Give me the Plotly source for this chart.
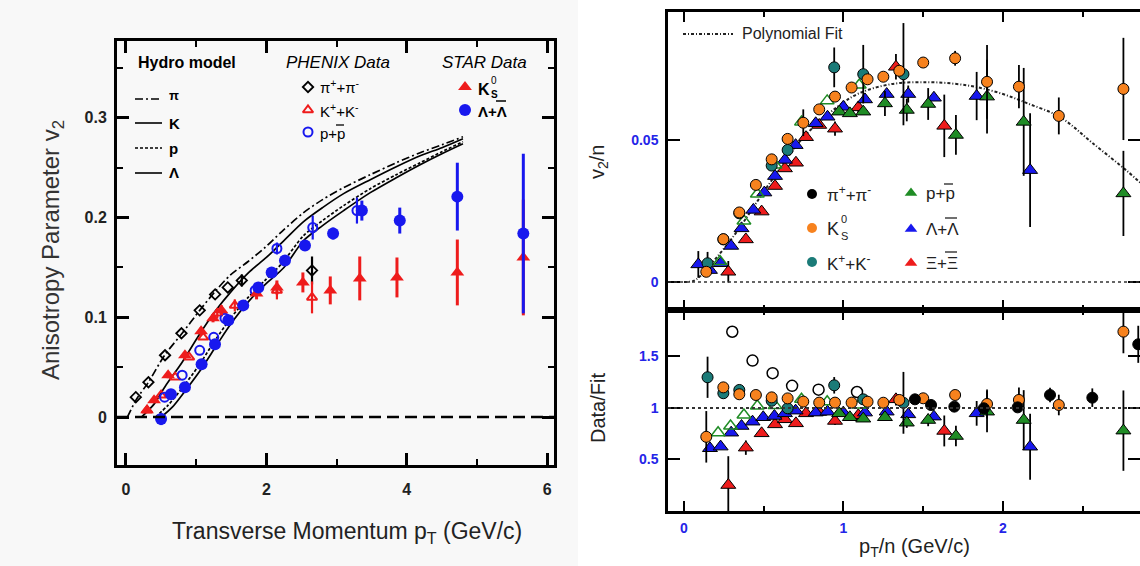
import plotly.graph_objects as go

W, H = 1140, 566
FONT = "Liberation Sans, Arial, sans-serif"
RED, BLUE = "#ee1c1c", "#1818ee"
ORANGE, TEAL, GREEN = "#f7821e", "#1b7b78", "#1f8c25"
TICKBLUE = "#2424e8"

# ---------------- left: hydro model vs PHENIX / STAR v2(pT) ----------------
hydro_pi_x = [0.02, 0.15, 0.32, 0.55, 0.8, 1.05, 1.27, 1.48, 1.74, 1.98, 2.22, 2.53, 2.8, 3.1, 3.48, 3.85, 4.19, 4.5, 4.8]
hydro_pi_y = [0.0, 0.018, 0.035, 0.062, 0.084, 0.107, 0.126, 0.142, 0.156, 0.170, 0.186, 0.205, 0.218, 0.230, 0.243, 0.255, 0.265, 0.273, 0.281]
hydro_k_x = [0.22, 0.4, 0.56, 0.8, 1.03, 1.27, 1.5, 1.75, 2.0, 2.25, 2.53, 2.8, 3.1, 3.48, 3.85, 4.19, 4.5, 4.8]
hydro_k_y = [0.0, 0.013, 0.031, 0.055, 0.081, 0.106, 0.126, 0.145, 0.160, 0.177, 0.196, 0.210, 0.224, 0.238, 0.251, 0.262, 0.270, 0.279]
hydro_p_x = [0.42, 0.6, 0.8, 1.03, 1.27, 1.5, 1.74, 1.98, 2.22, 2.53, 2.8, 3.1, 3.48, 3.85, 4.19, 4.5, 4.8]
hydro_p_y = [0.0, 0.012, 0.029, 0.051, 0.077, 0.100, 0.120, 0.137, 0.154, 0.182, 0.197, 0.212, 0.229, 0.243, 0.255, 0.266, 0.276]
hydro_lam_x = [0.5, 0.66, 0.85, 1.06, 1.3, 1.52, 1.76, 2.0, 2.25, 2.53, 2.8, 3.1, 3.48, 3.85, 4.19, 4.5, 4.8]
hydro_lam_y = [0.0, 0.010, 0.027, 0.047, 0.073, 0.096, 0.117, 0.134, 0.150, 0.177, 0.192, 0.207, 0.225, 0.240, 0.253, 0.264, 0.274]

phenix_pi_x = [0.14, 0.32, 0.556, 0.79, 1.05, 1.27, 1.45, 1.65, 2.65]
phenix_pi_y = [0.020, 0.035, 0.062, 0.084, 0.107, 0.123, 0.130, 0.137, 0.147]
phenix_pi_e = [0, 0, 0, 0, 0, 0, 0, 0.006, 0.014]

phenix_k_x = [0.3, 0.5, 0.7, 0.9, 1.1, 1.3, 1.55, 2.15, 2.65]
phenix_k_y = [0.007, 0.022, 0.040, 0.060, 0.080, 0.104, 0.112, 0.127, 0.120]
phenix_k_e = [0, 0, 0, 0, 0, 0.005, 0.006, 0.009, 0.016]

phenix_p_x = [0.55, 0.8, 1.05, 1.25, 1.41, 1.84, 2.15, 2.66, 3.29]
phenix_p_y = [0.020, 0.042, 0.067, 0.080, 0.099, 0.127, 0.169, 0.190, 0.207]
phenix_p_e = [0, 0, 0, 0, 0, 0.004, 0.006, 0.012, 0.013]

star_k0_x = [0.3, 0.4, 0.6, 0.84, 1.07, 1.24, 1.36, 1.86, 2.15, 2.52, 2.91, 3.33, 3.86, 4.72, 5.66]
star_k0_y = [0.007, 0.017, 0.042, 0.062, 0.086, 0.099, 0.107, 0.124, 0.130, 0.135, 0.127, 0.139, 0.140, 0.145, 0.160]
star_k0_e = [0.003, 0.003, 0.003, 0.003, 0.004, 0.004, 0.005, 0.006, 0.007, 0.010, 0.014, 0.022, 0.020, 0.033, 0.058]

star_lam_x = [0.5, 0.64, 0.84, 1.077, 1.268, 1.458, 1.67, 1.885, 2.075, 2.265, 2.55, 2.95, 3.36, 3.9, 4.72, 5.66]
star_lam_y = [-0.002, 0.023, 0.030, 0.053, 0.073, 0.097, 0.112, 0.130, 0.145, 0.157, 0.172, 0.184, 0.207, 0.197, 0.221, 0.184]
star_lam_e = [0.006, 0.003, 0.003, 0.003, 0.003, 0.003, 0.003, 0.003, 0.004, 0.004, 0.005, 0.006, 0.010, 0.013, 0.034, 0.080]

# ---------------- right: v2/n vs pT/n with polynomial fit ----------------
fit_x = [0.0, 0.06, 0.1, 0.225, 0.33, 0.54, 0.75, 0.96, 1.10, 1.30, 1.52, 1.70, 1.84, 2.0, 2.15, 2.36, 2.56, 2.78, 2.86]
fit_y = [0.0, 0.0004, 0.002, 0.010, 0.0176, 0.035, 0.051, 0.0616, 0.0665, 0.0697, 0.0704, 0.0698, 0.0686, 0.0662, 0.0630, 0.0580, 0.0490, 0.0390, 0.0350]

xi_x = [0.278, 0.388, 0.487, 0.571, 0.633, 0.702, 0.765, 0.848, 0.947, 1.093, 1.329, 1.632]
xi_y = [0.0036, 0.0150, 0.0248, 0.0338, 0.0400, 0.0420, 0.0510, 0.0553, 0.0540, 0.0615, 0.0758, 0.0550]
xi_e = [0.0038, 0.001, 0, 0, 0, 0, 0, 0, 0.0025, 0.002, 0.0045, 0.011]
xi_r = [0.252, 0.615, 0.754, 0.841, 0.890, 0.851, 0.948, 0.961, 0.874, 0.929, 1.084, 0.777]
xi_re = [0.28, 0.07, 0, 0, 0, 0, 0, 0, 0.04, 0.03, 0.06, 0.15]

lam_x = [0.09, 0.163, 0.23, 0.296, 0.361, 0.435, 0.504, 0.571, 0.633, 0.70, 0.826, 0.90, 0.999, 1.135, 1.271, 1.406, 1.567, 1.835, 2.17]
lam_y = [0.0062, 0.0042, 0.0066, 0.0127, 0.0189, 0.0254, 0.0315, 0.0373, 0.0430, 0.0482, 0.0559, 0.0582, 0.0617, 0.0643, 0.0662, 0.0662, 0.0649, 0.0655, 0.0394]
lam_e = [0.0047, 0, 0, 0, 0, 0, 0, 0, 0, 0, 0, 0, 0, 0, 0, 0.003, 0, 0.0085, 0.020]
lam_rx = [0.163, 0.23, 0.296, 0.361, 0.43, 0.497, 0.567, 0.633, 0.70, 0.826, 0.90, 0.999, 1.135, 1.271, 1.406, 1.567, 1.835, 2.17]
lam_r = [0.609, 0.625, 0.760, 0.825, 0.867, 0.910, 0.922, 0.948, 0.974, 0.955, 0.964, 0.955, 0.955, 0.964, 0.938, 0.916, 0.948, 0.624]
lam_re = [0, 0, 0, 0, 0, 0, 0, 0, 0, 0, 0, 0, 0, 0, 0.04, 0, 0.12, 0.32]

p_x = [0.973, 1.04, 1.124, 1.26, 1.397, 1.531, 1.705, 1.90, 2.13, 2.755]
p_y = [0.0600, 0.0594, 0.0600, 0.0629, 0.0606, 0.0627, 0.0518, 0.0653, 0.0564, 0.0312]
p_e = [0, 0, 0, 0.0044, 0.004, 0.0056, 0.007, 0.013, 0.019, 0.015]
p_r = [0.948, 0.910, 0.896, 0.910, 0.857, 0.883, 0.728, 0.964, 0.883, 0.780]
p_re = [0, 0, 0, 0.03, 0.05, 0.06, 0.10, 0.20, 0.29, 0.39]

pbar_open_x = [0.226, 0.376, 0.46, 0.571, 0.737, 0.898, 1.099]
pbar_open_y = [0.0072, 0.0215, 0.0310, 0.0412, 0.0564, 0.0638, 0.0694]
pbar_open_rx = [0.214, 0.292, 0.376, 0.46, 0.571, 0.737, 0.898, 1.099]
pbar_open_r = [0.760, 0.825, 0.932, 1.019, 1.023, 1.084, 1.060, 1.029]

kch_x = [0.148, 0.247, 0.347, 0.55, 0.65, 0.942, 1.124, 1.376]
kch_y = [0.0066, 0.0150, 0.0242, 0.0410, 0.0465, 0.0756, 0.0732, 0.0732]
kch_e = [0.004, 0, 0, 0, 0, 0.007, 0.0103, 0.018]
kch_r = [1.298, 1.143, 1.175, 1.070, 0.997, 1.220, 1.084, 1.050]
kch_re = [0.20, 0.04, 0, 0, 0, 0.08, 0.03, 0.30]

k0_x = [0.14, 0.247, 0.347, 0.451, 0.55, 0.65, 0.748, 0.848, 0.947, 1.051, 1.151, 1.25, 1.35, 1.50, 1.70, 1.90, 2.10, 2.35, 2.755]
k0_y = [0.0036, 0.0151, 0.0245, 0.0342, 0.0432, 0.0504, 0.0561, 0.0608, 0.0653, 0.0685, 0.0714, 0.0723, 0.0744, 0.0773, 0.0788, 0.0705, 0.0688, 0.0585, 0.0680]
k0_e = [0, 0, 0, 0, 0, 0, 0.0047, 0, 0, 0, 0, 0, 0, 0, 0.0026, 0.013, 0.0076, 0.0065, 0.018]
k0_r = [0.720, 1.200, 1.133, 1.126, 1.103, 1.093, 1.062, 1.052, 1.052, 1.052, 1.061, 1.051, 1.078, 1.094, 1.126, 1.039, 1.078, 1.029, 1.741]
k0_re = [0.25, 0.03, 0, 0, 0, 0, 0.05, 0, 0, 0, 0, 0, 0, 0, 0.03, 0.14, 0.12, 0.10, 0.21]

pi_rx = [1.448, 1.549, 1.695, 1.88, 2.092, 2.295, 2.56, 2.848]
pi_r = [1.084, 1.029, 1.013, 0.997, 1.006, 1.126, 1.100, 1.618]
pi_re = [0, 0, 0, 0, 0, 0.07, 0.09, 0.18]

pi_open_rx = [0.303, 0.43, 0.556, 0.678, 0.844, 1.085]
pi_open_r = [1.740, 1.460, 1.338, 1.215, 1.178, 1.155]


def px(x):
    return x / W


def py(y):
    return 1 - y / H


fig = go.Figure()


def pts(x, y, err, ax, symbol, color, size, line_color=None, line_w=0, err_color=None, err_w=1.8):
    marker = dict(symbol=symbol, size=size, color=color,
                  line=dict(color=line_color or color, width=line_w))
    fig.add_trace(go.Scatter(
        x=x, y=y, mode="markers", marker=marker, xaxis=ax[0], yaxis=ax[1],
        error_y=dict(type="data", array=err, visible=True,
                     color=err_color or color, thickness=err_w, width=0) if err is not None else None,
        showlegend=False, hoverinfo="skip"))


# hydro curves
for cx, cy, dash in [(hydro_pi_x, hydro_pi_y, "8px,3px,2px,3px"), (hydro_k_x, hydro_k_y, "solid"),
                     (hydro_p_x, hydro_p_y, "3px,2px"), (hydro_lam_x, hydro_lam_y, "solid")]:
    fig.add_trace(go.Scatter(x=cx, y=cy, mode="lines", xaxis="x", yaxis="y",
                             line=dict(color="black", width=1.7, dash=dash, shape="spline", smoothing=0.8),
                             showlegend=False, hoverinfo="skip"))

L = ("x", "y")
pts(phenix_pi_x, phenix_pi_y, phenix_pi_e, L, "diamond-open", "black", 8, line_w=1.8, err_w=2.2)
pts(phenix_k_x, phenix_k_y, phenix_k_e, L, "triangle-up-open", RED, 9, line_w=2, err_w=2.2)
pts(phenix_p_x, phenix_p_y, phenix_p_e, L, "circle-open", BLUE, 9, line_w=2, err_w=2.2)
pts(star_k0_x, star_k0_y, star_k0_e, L, "triangle-up", RED, 12, err_w=3)
pts(star_lam_x, star_lam_y, star_lam_e, L, "circle", BLUE, 12, err_w=3)

# right top: v2/n
fig.add_trace(go.Scatter(x=fit_x, y=fit_y, mode="lines", xaxis="x2", yaxis="y2",
                         line=dict(color="#222", width=2, dash="3px,2px,1px,2px", shape="spline"),
                         showlegend=False, hoverinfo="skip"))
T = ("x2", "y2")
pts(xi_x, xi_y, xi_e, T, "triangle-up", RED, 13, "black", 1, "black")
pts(lam_x, lam_y, lam_e, T, "triangle-up", BLUE, 13, "black", 1, "black")
pts(p_x, p_y, p_e, T, "triangle-up", GREEN, 13, "black", 1, "black")
pts(pbar_open_x, pbar_open_y, None, T, "triangle-up-open", GREEN, 12, GREEN, 1.5)
pts(kch_x, kch_y, kch_e, T, "circle", TEAL, 11, "black", 1, "black")
pts(k0_x, k0_y, k0_e, T, "circle", ORANGE, 11, "black", 1, "black")

# right bottom: Data/Fit
B = ("x3", "y3")
pts(xi_x, xi_r, xi_re, B, "triangle-up", RED, 13, "black", 1, "black")
pts(lam_rx, lam_r, lam_re, B, "triangle-up", BLUE, 13, "black", 1, "black")
pts(p_x, p_r, p_re, B, "triangle-up", GREEN, 13, "black", 1, "black")
pts(pbar_open_rx, pbar_open_r, None, B, "triangle-up-open", GREEN, 12, GREEN, 1.5)
pts(pi_open_rx, pi_open_r, None, B, "circle-open", "black", 11, "black", 1.5)
pts(kch_x, kch_r, kch_re, B, "circle", TEAL, 11, "black", 1, "black")
pts(k0_x, k0_r, k0_re, B, "circle", ORANGE, 11, "black", 1, "black")
pts(pi_rx, pi_r, pi_re, B, "circle", "black", 11, "black", 1, "black")

# legend symbols drawn on a pixel-space overlay
O = ("x4", "y4")
pts([308], [87], None, O, "diamond-open", "black", 8, line_w=1.8)
pts([308], [110], None, O, "triangle-up-open", RED, 9, line_w=2)
pts([308], [132], None, O, "circle-open", BLUE, 9, line_w=2)
pts([465], [87], None, O, "triangle-up", RED, 12)
pts([465], [110], None, O, "circle", BLUE, 12)
pts([812], [194], None, O, "circle", "black", 10)
pts([812], [228], None, O, "circle", ORANGE, 10)
pts([812], [262], None, O, "circle", TEAL, 10)
pts([911], [193], None, O, "triangle-up", GREEN, 11)
pts([911], [229], None, O, "triangle-up", BLUE, 11)
pts([911], [263], None, O, "triangle-up", RED, 11)


def hline(x0, x1, y, width=1.6, dash="solid", color="black"):
    return dict(type="line", xref="paper", yref="paper", x0=px(x0), x1=px(x1), y0=py(y), y1=py(y),
                line=dict(color=color, width=width, dash=dash))


shapes = [
    dict(type="rect", xref="paper", yref="paper", x0=0, x1=px(578), y0=0, y1=1,
         fillcolor="#f8f8f8", line=dict(width=0), layer="below"),
    dict(type="line", xref="x", yref="y", x0=-0.128, x1=6.097, y0=0, y1=0,
         line=dict(color="black", width=2.5, dash="12px,6px")),
    dict(type="line", xref="x2", yref="y2", x0=-0.1, x1=2.86, y0=0, y1=0,
         line=dict(color="#333", width=1.5, dash="dot")),
    dict(type="line", xref="x3", yref="y3", x0=-0.1, x1=2.86, y0=1, y1=1,
         line=dict(color="#333", width=1.8, dash="dot")),
    # hydro legend lines
    hline(135, 162, 99, dash="8px,3px,2px,3px"),
    hline(135, 162, 123),
    hline(135, 162, 148, dash="3px,2px"),
    hline(135, 162, 173),
    hline(683, 733, 34, width=2, dash="3px,2px,1px,2px", color="#222"),
    # bars over antiparticle symbols
    hline(336, 344, 125, width=1.3),
    hline(496, 506, 101, width=1.5),
    hline(944, 953, 184, width=1.3, color="#222"),
    hline(945, 957, 218, width=1.3, color="#222"),
    hline(945, 957, 252, width=1.3, color="#222"),
]


def note(text, x, y, size, color="black", xanchor="left", angle=0, bold=False, italic=False):
    return dict(text=text, x=px(x), y=py(y), xref="paper", yref="paper", showarrow=False,
                xanchor=xanchor, yanchor="middle", textangle=angle,
                font=dict(size=size, color=color, family=FONT,
                          weight="bold" if bold else "normal",
                          style="italic" if italic else "normal"))


annotations = [
    note("Hydro model", 136, 62, 16, bold=True),
    note("π", 167, 96, 13, bold=True),
    note("K", 167, 123, 15, bold=True),
    note("p", 167, 148, 15, bold=True),
    note("Λ", 167, 173, 15, bold=True),
    note("PHENIX Data", 284, 62, 17, italic=True),
    note("π<sup>+</sup>+π<sup>-</sup>", 318, 87, 15),
    note("K<sup>+</sup>+K<sup>-</sup>", 318, 110, 15),
    note("p+p", 318, 133, 15),
    note("STAR Data", 440, 62, 17, italic=True),
    note("K", 476, 89, 16, bold=True),
    note("0", 489, 80, 10),
    note("S", 489, 95, 10, bold=True),
    note("Λ+Λ", 476, 111, 15, bold=True),
    note("Anisotropy Parameter v<sub>2</sub>", 52, 250, 24, color="#333", xanchor="center", angle=-90),
    note("Transverse Momentum p<sub>T</sub> (GeV/c)", 347, 532, 23, color="#222", xanchor="center"),
    note("Polynomial Fit", 740, 34, 16, color="#222"),
    note("π<sup>+</sup>+π<sup>-</sup>", 825, 194, 17, color="#222"),
    note("K", 825, 229, 18, color="#222"),
    note("0", 839, 219, 11, color="#222"),
    note("S", 839, 236, 11, color="#222"),
    note("K<sup>+</sup>+K<sup>-</sup>", 825, 263, 17, color="#222"),
    note("p+p", 924, 193, 17, color="#222"),
    note("Λ+Λ", 924, 229, 17, color="#222"),
    note("Ξ+Ξ", 924, 263, 17, color="#222"),
    note("v<sub>2</sub>/n", 598, 162, 20, color="#222", xanchor="center", angle=-90),
    note("Data/Fit", 598, 408, 20, color="#222", xanchor="center", angle=-90),
    note("p<sub>T</sub>/n (GeV/c)", 914, 547, 20, color="#222", xanchor="center"),
]


def frame(**kw):
    base = dict(showline=True, linecolor="black", mirror="allticks", ticks="inside",
                tickcolor="black", showgrid=False, zeroline=False, automargin=False,
                fixedrange=True)
    base.update(kw)
    return base


left_font = dict(size=16, color="#222", family=FONT, weight="bold")
right_font = dict(size=14, color=TICKBLUE, family=FONT, weight="bold")
minor_left = dict(ticks="inside", ticklen=6, tickwidth=2, tickcolor="black")
minor_right = dict(ticks="inside", ticklen=5, tickwidth=1.5, tickcolor="black")

fig.update_layout(
    width=W, height=H, margin=dict(l=0, r=0, t=0, b=0),
    paper_bgcolor="white", plot_bgcolor="rgba(0,0,0,0)",
    font=dict(family=FONT), showlegend=False,
    xaxis=frame(domain=[px(117), px(554)], range=[-0.128, 6.097], anchor="y", linewidth=3,
                tick0=0, dtick=2, ticklen=12, tickwidth=2.5, minor=dict(dtick=1, **minor_left),
                tickfont=left_font, ticklabelstandoff=8),
    yaxis=frame(domain=[py(465), py(41)], range=[-0.048, 0.377], anchor="x", linewidth=3,
                tick0=0, dtick=0.1, ticklen=12, tickwidth=2.5, minor=dict(dtick=0.05, **minor_left),
                tickfont=left_font, ticklabelstandoff=4),
    xaxis2=frame(domain=[px(668), 1.0], range=[-0.1, 2.859], anchor="y2", linewidth=2.5,
                 tick0=0, dtick=1, ticklen=10, tickwidth=2, minor=dict(dtick=0.5, **minor_right),
                 showticklabels=False),
    yaxis2=frame(domain=[py(310), py(12)], range=[-0.00986, 0.0951], anchor="x2", linewidth=2.5,
                 tickvals=[0, 0.05], ticktext=["0", "0.05"], ticklen=12, tickwidth=2,
                 tickfont=right_font, ticklabelstandoff=4),
    xaxis3=frame(domain=[px(668), 1.0], range=[-0.1, 2.859], anchor="y3", linewidth=2.5,
                 tick0=0, dtick=1, ticklen=10, tickwidth=2, minor=dict(dtick=0.5, **minor_right),
                 tickfont=right_font, ticklabelstandoff=2),
    yaxis3=frame(domain=[py(511), py(310)], range=[0.0, 1.951], anchor="x3", linewidth=2.5,
                 tickvals=[0.5, 1, 1.5], ticktext=["0.5", "1", "1.5"], ticklen=12, tickwidth=2,
                 tickfont=right_font, ticklabelstandoff=4),
    xaxis4=dict(domain=[0, 1], range=[0, W], anchor="y4", visible=False, fixedrange=True),
    yaxis4=dict(domain=[0, 1], range=[H, 0], anchor="x4", visible=False, fixedrange=True),
    shapes=shapes, annotations=annotations,
)

fig.write_html("out.html")
